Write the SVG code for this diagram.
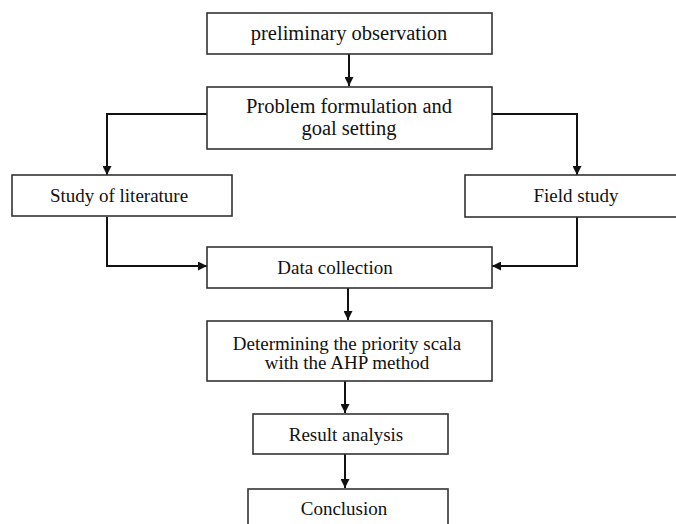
<svg xmlns="http://www.w3.org/2000/svg" width="676" height="524" viewBox="0 0 676 524">
<style>
.box{fill:#fff;stroke:#333;stroke-width:1.6}
.t{font-family:"Liberation Serif","Times New Roman",serif;fill:#111;text-anchor:middle}
.big{font-size:20.5px}
.sm{font-size:19px}
.c{fill:none;stroke:#111;stroke-width:2}
</style>
<defs>
<marker id="ah" viewBox="0 0 10 10" refX="10" refY="5" markerWidth="9" markerHeight="9" markerUnits="userSpaceOnUse" orient="auto">
<path d="M0,0 L10,5 L0,10 Z" fill="#111"/>
</marker>
</defs>
<rect width="676" height="524" fill="#fff"/>
<g id="connectors">
<path class="c" d="M349,54 V86" marker-end="url(#ah)"/>
<path class="c" d="M207,114 H107 V175" marker-end="url(#ah)"/>
<path class="c" d="M492,114 H577 V175" marker-end="url(#ah)"/>
<path class="c" d="M107,217 V266 H207" marker-end="url(#ah)"/>
<path class="c" d="M577,217 V266 H492" marker-end="url(#ah)"/>
<path class="c" d="M348,288 V320" marker-end="url(#ah)"/>
<path class="c" d="M345,381 V413" marker-end="url(#ah)"/>
<path class="c" d="M345,454 V488" marker-end="url(#ah)"/>
</g>
<g id="preliminary">
<rect class="box" x="207" y="13" width="285" height="41"/>
<text class="t big" x="349" y="40">preliminary observation</text>
</g>
<g id="problem">
<rect class="box" x="207" y="87" width="285" height="62"/>
<text class="t big" x="349" y="113">Problem formulation and</text>
<text class="t big" x="349" y="135">goal setting</text>
</g>
<g id="literature">
<rect class="box" x="12" y="175" width="220" height="41"/>
<text class="t sm" x="119" y="202">Study of literature</text>
</g>
<g id="field">
<rect class="box" x="465" y="175" width="230" height="42"/>
<text class="t sm" x="576" y="202">Field study</text>
</g>
<g id="data">
<rect class="box" x="207" y="247" width="285" height="41"/>
<text class="t sm" x="335" y="274">Data collection</text>
</g>
<g id="ahp">
<rect class="box" x="207" y="321" width="285" height="60"/>
<text class="t sm" x="347" y="350">Determining the priority scala</text>
<text class="t sm" x="347" y="369">with the AHP method</text>
</g>
<g id="result">
<rect class="box" x="253" y="414" width="195" height="40"/>
<text class="t sm" x="346" y="441">Result analysis</text>
</g>
<g id="conclusion">
<rect class="box" x="248" y="489" width="200" height="50"/>
<text class="t sm" x="344" y="515">Conclusion</text>
</g>
</svg>
